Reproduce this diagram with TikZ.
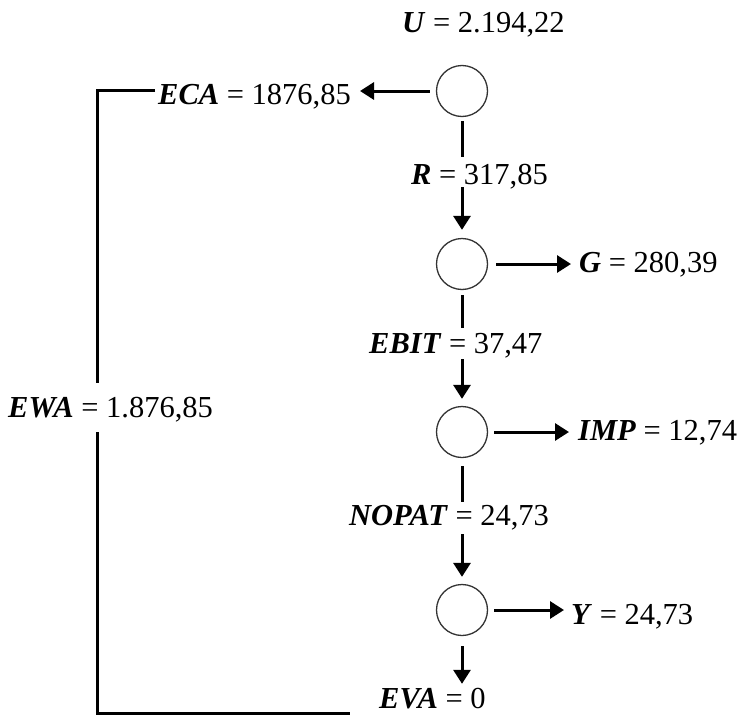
\documentclass[tikz,border=0pt]{standalone}
\usepackage{fontspec}
\setmainfont{Liberation Serif}
\usetikzlibrary{arrows.meta}
\newcommand\vb[1]{\textbf{\textit{#1}}}
\begin{document}
\begin{tikzpicture}[x=1pt,y=-1pt,
  lab/.style={anchor=base west, inner sep=0pt, text height=20pt, text depth=6pt, font=\fontsize{30.5}{35}\selectfont},
  circ/.style={circle, draw=black!80, line width=1.3pt, minimum size=51pt, inner sep=0pt},
  conn/.style={line width=3pt},
  arr/.style={line width=3pt, -{Triangle[length=14pt,width=17pt]}}]
\useasboundingbox (0,0) rectangle (745,715);
\node[circ] (c1) at (462,91) {};
\node[circ] (c2) at (462,264) {};
\node[circ] (c3) at (462,432) {};
\node[circ] (c4) at (462,610) {};
\node[lab] (U) at (402,32) {\vb{U} = 2.194,22};
\node[lab] (eca) at (158,104) {\vb{ECA} = 1876,85};
\node[lab] (r) at (411,184) {\vb{R} = 317,85};
\node[lab] (g) at (579,272) {\vb{G} = 280,39};
\node[lab] (ebit) at (369,353) {\vb{EBIT} = 37,47};
\node[lab] (ewa) at (8,417) {\vb{EWA} = 1.876,85};
\node[lab] (imp) at (578,440) {\vb{IMP} = 12,74};
\node[lab] (nopat) at (349,525) {\vb{NOPAT} = 24,73};
\node[lab] (y) at (571,624) {\vb{Y} = 24,73};
\node[lab, text depth=0pt] (eva) at (379,708) {\vb{EVA} = 0};
\coordinate (tl) at (97,90);
\coordinate (bl) at (97,713);
\coordinate (br) at (350,713);
\draw[arr, shorten <=6pt, shorten >=9pt] (c1.west) -- (c1.west -| eca.east);
\draw[conn, shorten <=4pt, shorten >=7pt] (c1.south) -- (c1.south |- r.north);
\draw[arr, shorten <=-3pt, shorten >=8pt] (c1.south |- r.south) -- (c2.north);
\draw[arr, shorten <=8pt, shorten >=8pt] (c2.east) -- (c2.east -| g.west);
\draw[conn, shorten <=5pt, shorten >=5pt] (c2.south) -- (c2.south |- ebit.north);
\draw[arr, shorten >=7pt] (c2.south |- ebit.south) -- (c3.north);
\draw[arr, shorten <=6pt, shorten >=9pt] (c3.east) -- (c3.east -| imp.west);
\draw[conn, shorten <=8pt, shorten >=3pt] (c3.south) -- (c3.south |- nopat.north);
\draw[arr, shorten <=3pt, shorten >=7pt] (c3.south |- nopat.south) -- (c4.north);
\draw[arr, shorten <=6pt, shorten >=7pt] (c4.east) -- (c4.east -| y.west);
\draw[arr, shorten <=10pt, shorten >=4pt] (c4.south) -- (c4.south |- eva.north);
\draw[conn, shorten <=3pt, shorten >=14pt] (eca.west |- tl) -- (tl) -- (tl |- ewa.north);
\draw[conn, shorten <=9pt] (tl |- ewa.south) -- (bl) -- (br);
\end{tikzpicture}
\end{document}
